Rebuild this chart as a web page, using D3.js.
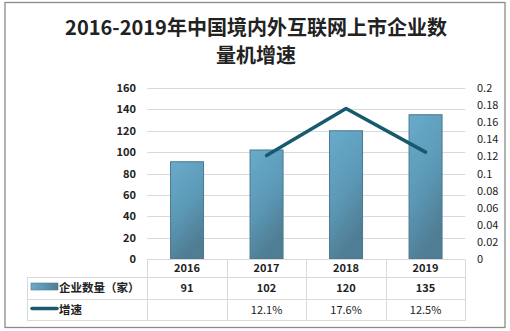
<!DOCTYPE html>
<html><head><meta charset="utf-8">
<script src="https://cdn.jsdelivr.net/npm/d3@7"></script>
<style>
html,body{margin:0;padding:0;background:#fff;}
svg{display:block;}
text{font-family:"Noto Sans CJK SC","Liberation Sans",sans-serif;}
</style></head>
<body><svg id="c" width="510" height="331"></svg>
<script>
const years = ["2016","2017","2018","2019"];
const counts = [91,102,120,135];
const growth = [null,0.121,0.176,0.125];
const growthLabels = ["","12.1%","17.6%","12.5%"];
const leftTicks = [0,20,40,60,80,100,120,140,160];
const rightTicks = [0,0.02,0.04,0.06,0.08,0.1,0.12,0.14,0.16,0.18,0.2];
const seriesNames = ["企业数量（家）","增速"];
const titleLines = ["2016-2019年中国境内外互联网上市企业数","量机增速"];

const svg = d3.select("#c");
const defs = svg.append("defs");
const g1 = defs.append("linearGradient").attr("id","barG").attr("x1",0).attr("y1",0).attr("x2",0.35).attr("y2",1);
g1.append("stop").attr("offset","0%").attr("stop-color","#69abcb");
g1.append("stop").attr("offset","55%").attr("stop-color","#5c99b7");
g1.append("stop").attr("offset","100%").attr("stop-color","#4f7d93");
const g2 = defs.append("linearGradient").attr("id","legG").attr("x1",0).attr("y1",0).attr("x2",1).attr("y2",0);
g2.append("stop").attr("offset","0%").attr("stop-color","#69abcb");
g2.append("stop").attr("offset","100%").attr("stop-color","#4f7d93");

// outer border
svg.append("rect").attr("x",5).attr("y",2.5).attr("width",500).attr("height",325)
  .attr("fill","#fff").attr("stroke","#8a8a8a").attr("stroke-width",1.3);

// title
svg.selectAll("text.title").data(titleLines).enter().append("text")
  .attr("x",256).attr("y",(d,i)=>35+i*28).attr("text-anchor","middle")
  .attr("font-size",20).attr("font-weight","bold").attr("fill","#222").text(d=>d);

const x0 = 147.3, x1 = 465.3, yTop = 88, yBot = 259;
const x = d3.scaleBand().domain(years).range([x0,x1]).padding(0);
const yL = d3.scaleLinear().domain([0,160]).range([yBot,yTop]);
const yR = d3.scaleLinear().domain([0,0.2]).range([yBot,yTop]);

// gridlines
svg.append("g").selectAll("line").data(leftTicks.filter(t=>t>0)).enter().append("line")
  .attr("x1",x0).attr("x2",x1).attr("y1",d=>Math.round(yL(d))+0.5).attr("y2",d=>Math.round(yL(d))+0.5)
  .attr("stroke","#d9d9d9").attr("stroke-width",1);

// left axis
const axL = svg.append("g").attr("transform","translate(140,0)")
  .call(d3.axisLeft(yL).tickValues(leftTicks).tickSize(0).tickPadding(4).tickFormat(d3.format("d")));
axL.select(".domain").remove();
axL.selectAll("text").attr("font-size",11).attr("font-weight","bold").attr("fill","#222")
  .attr("font-family","'Liberation Sans',sans-serif");

// right axis
const axR = svg.append("g").attr("transform","translate(473,0)")
  .call(d3.axisRight(yR).tickValues(rightTicks).tickSize(0).tickPadding(4).tickFormat(d=>String(+d.toFixed(2))));
axR.select(".domain").remove();
axR.selectAll("text").attr("font-size",11).attr("fill","#222")
  .attr("font-family","'Liberation Sans',sans-serif");

// bars
const bw = 33;
svg.append("g").selectAll("rect").data(counts).enter().append("rect")
  .attr("x",(d,i)=>x(years[i])+x.bandwidth()/2-bw/2)
  .attr("y",d=>yL(d)).attr("width",bw).attr("height",d=>yBot-yL(d))
  .attr("fill","url(#barG)").attr("stroke","#4a7890").attr("stroke-width",1);

// line
const pts = growth.map((v,i)=>({v,i})).filter(d=>d.v!==null);
svg.append("path").datum(pts)
  .attr("d",d3.line().x(d=>x(years[d.i])+x.bandwidth()/2).y(d=>yR(d.v)))
  .attr("fill","none").attr("stroke","#175a70").attr("stroke-width",3.5)
  .attr("stroke-linecap","round").attr("stroke-linejoin","round");

// data table
const rowY = [259.5,277,299,320];
const tc = "#d9d9d9";
const tg = svg.append("g");
// horizontal lines
tg.append("line").attr("x1",x0).attr("x2",x1).attr("y1",rowY[0]).attr("y2",rowY[0]).attr("stroke",tc);
[1,2,3].forEach(k=>tg.append("line").attr("x1",27.3).attr("x2",x1).attr("y1",rowY[k]+0.5).attr("y2",rowY[k]+0.5).attr("stroke",tc));
// vertical lines
const colEdges = years.map(y=>x(y)).concat([x1]);
colEdges.forEach(cx=>tg.append("line").attr("x1",Math.round(cx)+0.5).attr("x2",Math.round(cx)+0.5).attr("y1",rowY[0]).attr("y2",rowY[3]+0.5).attr("stroke",tc));
tg.append("line").attr("x1",27.5).attr("x2",27.5).attr("y1",rowY[1]).attr("y2",rowY[3]+0.5).attr("stroke",tc);

// category row
tg.selectAll("text.cat").data(years).enter().append("text")
  .attr("x",d=>x(d)+x.bandwidth()/2).attr("y",272).attr("text-anchor","middle")
  .attr("font-size",11).attr("font-weight","bold").attr("fill","#222")
  .attr("font-family","'Liberation Sans',sans-serif").text(d=>d);
// counts row
tg.selectAll("text.cnt").data(counts).enter().append("text")
  .attr("x",(d,i)=>x(years[i])+x.bandwidth()/2).attr("y",292).attr("text-anchor","middle")
  .attr("font-size",11).attr("font-weight","bold").attr("fill","#222")
  .attr("font-family","'Liberation Sans',sans-serif").text(d=>d);
// growth row
tg.selectAll("text.gr").data(growthLabels).enter().append("text")
  .attr("x",(d,i)=>x(years[i])+x.bandwidth()/2).attr("y",314).attr("text-anchor","middle")
  .attr("font-size",11).attr("fill","#222")
  .attr("font-family","'Liberation Sans',sans-serif").text(d=>d);

// legend keys
tg.append("rect").attr("x",31).attr("y",283).attr("width",27).attr("height",7)
  .attr("fill","url(#legG)").attr("stroke","#4a7890").attr("stroke-width",0.6);
tg.append("line").attr("x1",32).attr("x2",57).attr("y1",308.5).attr("y2",308.5)
  .attr("stroke","#175a70").attr("stroke-width",3.5).attr("stroke-linecap","round");
tg.selectAll("text.leg").data(seriesNames).enter().append("text")
  .attr("x",59).attr("y",(d,i)=>i===0?291.5:313.5)
  .attr("font-size",11.5).attr("font-weight","bold").attr("fill","#222").text(d=>d);
</script></body></html>
